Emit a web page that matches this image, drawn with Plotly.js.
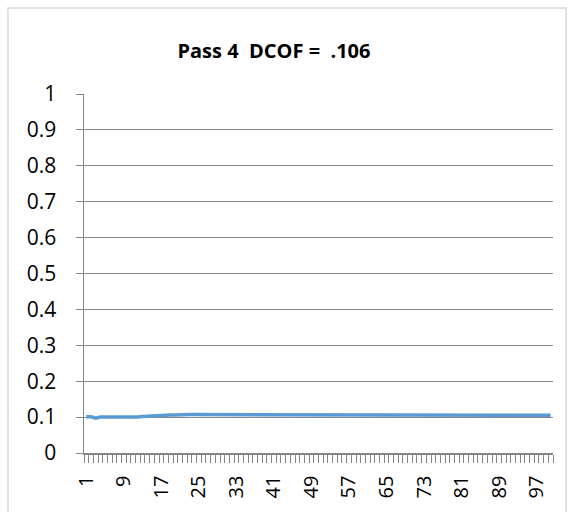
<!DOCTYPE html>
<html>
<head>
<meta charset="utf-8">
<script src="https://cdn.plot.ly/plotly-3.0.1.min.js"></script>
<style>html,body{margin:0;padding:0;background:#fff;}#chart{width:572px;height:512px;}</style>
</head>
<body>
<div id="chart"></div>
<script>
// Data
const titleText = "Pass 4  DCOF =  .106";
const samples = Array.from({length: 100}, (_, i) => i + 1);
const dcof = [
  0.101, 0.101, 0.097, 0.100, 0.100, 0.100, 0.100, 0.100, 0.099, 0.099,
  0.100, 0.100, 0.102, 0.103, 0.103, 0.104, 0.104, 0.105, 0.106, 0.106,
  0.107, 0.107, 0.107, 0.107, 0.107, 0.107, 0.107, 0.107, 0.107, 0.107,
  0.106, 0.106, 0.106, 0.106, 0.106, 0.106, 0.106, 0.105, 0.105, 0.105,
  0.105, 0.105, 0.105, 0.105, 0.105, 0.105, 0.105, 0.105, 0.105, 0.105,
  0.105, 0.105, 0.105, 0.105, 0.105, 0.105, 0.105, 0.106, 0.106, 0.106,
  0.106, 0.106, 0.106, 0.106, 0.106, 0.106, 0.106, 0.106, 0.106, 0.106,
  0.106, 0.106, 0.106, 0.106, 0.106, 0.106, 0.106, 0.106, 0.106, 0.106,
  0.106, 0.106, 0.106, 0.106, 0.106, 0.106, 0.105, 0.105, 0.105, 0.105,
  0.105, 0.105, 0.105, 0.105, 0.105, 0.105, 0.105, 0.105, 0.105, 0.105
];
const xTickVals = [1, 9, 17, 25, 33, 41, 49, 57, 65, 73, 81, 89, 97];
const yTickVals = [0, 0.1, 0.2, 0.3, 0.4, 0.5, 0.6, 0.7, 0.8, 0.9, 1];
const yTickText = ["0", "0.1", "0.2", "0.3", "0.4", "0.5", "0.6", "0.7", "0.8", "0.9", "1"];

const axisColor = "#868686";
const fontFam = "Open Sans, Liberation Sans, sans-serif";

Plotly.newPlot("chart", [{
  x: samples,
  y: dcof,
  type: "scatter",
  mode: "lines",
  line: {color: "#5b9bd5", width: 3.5},
  hoverinfo: "skip"
}], {
  width: 572,
  height: 512,
  margin: {l: 84, r: 19, t: 94, b: 59},
  paper_bgcolor: "#ffffff",
  plot_bgcolor: "#ffffff",
  showlegend: false,
  title: {
    text: "<b>" + titleText + "</b>",
    font: {family: fontFam, size: 20, color: "#000"},
    x: 0.479, xanchor: "center", y: 0.9, yanchor: "middle"
  },
  xaxis: {
    range: [0.5, 100.5],
    tickvals: xTickVals,
    ticktext: xTickVals.map(String),
    tickangle: -90,
    ticks: "",
    ticklabelstandoff: 13,
    showgrid: false,
    zeroline: false,
    showline: true,
    linecolor: axisColor,
    linewidth: 1.5,
    tickfont: {family: fontFam, size: 20, color: "#000"},
    minor: {tick0: 0.5, dtick: 1, ticks: "outside", ticklen: 8, tickcolor: axisColor, tickwidth: 1, showgrid: false},
    fixedrange: true
  },
  yaxis: {
    range: [0, 1],
    tickvals: yTickVals,
    ticktext: yTickText,
    ticks: "outside",
    ticklen: 7,
    tickcolor: axisColor,
    tickwidth: 1,
    ticklabelstandoff: 15,
    showgrid: true,
    gridcolor: axisColor,
    gridwidth: 1,
    zeroline: false,
    showline: true,
    linecolor: axisColor,
    linewidth: 1.5,
    tickfont: {family: fontFam, size: 21, color: "#000"},
    fixedrange: true
  },
  shapes: [{
    type: "rect", xref: "paper", yref: "paper",
    x0: -0.162, x1: 1.028, y0: -0.18, y1: 1.2396,
    line: {color: "#d9d9d9", width: 1.5}
  }]
}, {staticPlot: true});
</script>
</body>
</html>
